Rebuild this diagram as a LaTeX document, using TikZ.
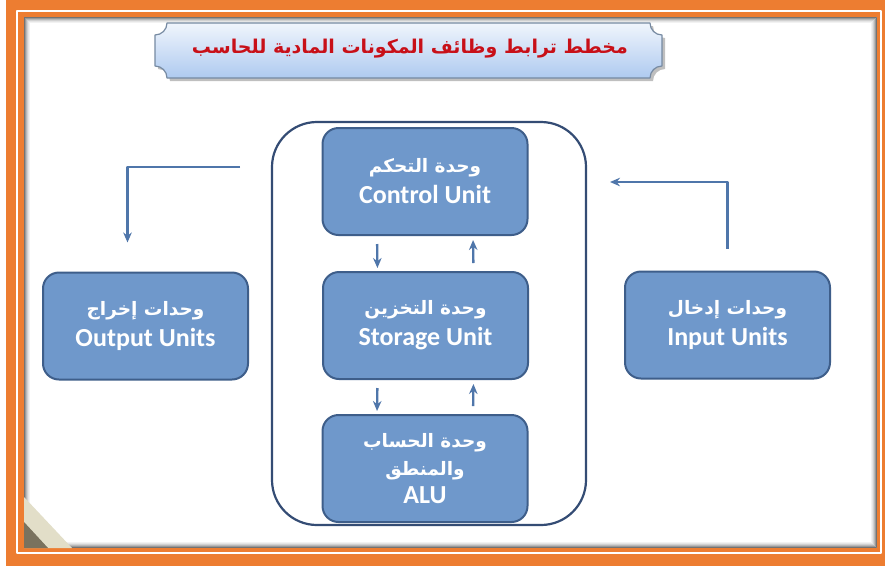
\documentclass[tikz,border=0pt]{standalone}
\usepackage{fontspec}
\setmainfont{Carlito}
\newfontfamily\arabicfont[Script=Arabic]{DejaVu Sans}
\TeXXeTstate=1
\usetikzlibrary{arrows.meta}
\definecolor{frameorange}{RGB}{237,125,49}
\definecolor{unitblue}{RGB}{111,152,203}
\definecolor{unitedge}{RGB}{62,94,138}
\definecolor{flowblue}{RGB}{79,118,170}
\definecolor{cpuedge}{RGB}{52,76,116}
\definecolor{titlered}{RGB}{200,16,24}
\definecolor{bannertop}{RGB}{240,245,252}
\definecolor{bannerbot}{RGB}{174,202,240}
\definecolor{banneredge}{RGB}{118,138,162}
\definecolor{curllight}{RGB}{226,222,200}
\definecolor{curldark}{RGB}{122,114,94}
\newcommand\artext[1]{{\arabicfont\fontsize{18.5}{31}\selectfont\beginR #1\endR}}
\begin{document}
\begin{tikzpicture}[x=1pt, y=-1pt, >={Stealth[length=10pt,width=8.5pt]}, line join=round,
	unit/.style={draw=unitedge, line width=2pt, fill=unitblue, rounded corners=16pt,
		minimum width=205pt, minimum height=107pt, align=center, text=white,
		font=\bfseries\fontsize{26}{31}\selectfont},
	flow/.style={draw=flowblue, line width=2.3pt, ->}]
	\useasboundingbox (0,0) rectangle (885,566);
	% frame
	\fill[white] (0,0) rectangle (885,566);
	\fill[frameorange] (6,0) rectangle (885,566);
	\draw[white, line width=2.5pt] (17,11) rectangle (881,553);
	\fill[white] (24,17) rectangle (877,548);
	\foreach \d/\o in {0.5/.55,1.5/.4,2.5/.28,3.5/.18,4.5/.1,5.5/.05}{
		\draw[black, opacity=\o, line width=1pt] (24+\d,17+\d) rectangle (877-\d,548-\d);
	}
	\fill[curllight] (24,497) -- (72,548) -- (24,548) -- cycle;
	\fill[curldark] (24,522) -- (48,548) -- (24,548) -- cycle;
	% banner
	\fill[black, opacity=.25] (170,26) -- (653,26) arc[start angle=180,end angle=90,radius=12]
		-- (665,69) arc[start angle=270,end angle=180,radius=12]
		-- (170,81) arc[start angle=0,end angle=-90,radius=12]
		-- (158,38) arc[start angle=90,end angle=0,radius=12] -- cycle;
	\draw[banneredge, line width=1.2pt, top color=bannertop, bottom color=bannerbot]
		(167,23) -- (650,23) arc[start angle=180,end angle=90,radius=12]
		-- (662,66) arc[start angle=270,end angle=180,radius=12]
		-- (167,78) arc[start angle=0,end angle=-90,radius=12]
		-- (155,35) arc[start angle=90,end angle=0,radius=12] -- cycle;
	\node[text=titlered, font=\bfseries\arabicfont\fontsize{19}{24}\selectfont] (title) at (410,49)
		{\beginR مخطط ترابط وظائف المكونات المادية للحاسب\endR};
	% units
	\node[draw=cpuedge, line width=2.2pt, rounded corners=45pt,
		minimum width=314pt, minimum height=403pt] (cpu) at (429,323.5) {};
	\node[unit] (control) at (425,181.5) {\artext{وحدة التحكم}\\ Control Unit};
	\node[unit] (storage) at (425.5,325.5) {\artext{وحدة التخزين}\\ Storage Unit};
	\node[unit] (alu) at (425,468.5) {\artext{وحدة الحساب}\\[-3pt] \artext{والمنطق}\\[-3pt] ALU};
	\node[unit] (output) at (145.5,326) {\artext{وحدات إخراج}\\ Output Units};
	\node[unit] (input) at (727.5,325) {\artext{وحدات إدخال}\\ Input Units};
	\coordinate (outstart) at (240,167);
	\coordinate (inend) at (610,182);
	% flows
	\foreach \a/\b in {control/storage,storage/alu}{
		\draw[flow, shorten <=8pt, shorten >=3pt] ([xshift=-48pt]\a.south) -- ([xshift=-48pt]\b.north);
		\draw[flow, shorten <=8pt, shorten >=4pt] ([xshift=48pt]\b.north) -- ([xshift=48pt]\a.south);
	}
	\draw[flow, shorten >=29pt] (outstart) -| ([xshift=-18pt]output.north);
	\draw[flow, shorten <=22pt] (input.north) |- (inend);
\end{tikzpicture}
\end{document}
